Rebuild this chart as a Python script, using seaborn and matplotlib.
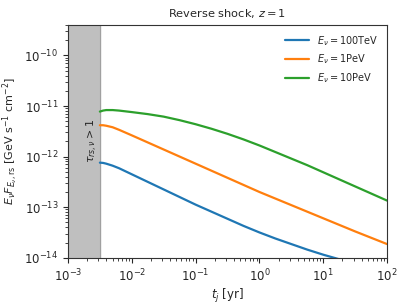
import numpy as np
import pandas as pd
import matplotlib
matplotlib.use("Agg")
import matplotlib.pyplot as plt
import seaborn as sns

sns.set_style("ticks")
plt.rcParams['font.family'] = ['DejaVu Sans']
plt.rcParams['mathtext.fontset'] = 'dejavusans'

# data (log10 t [yr], log10 flux)
log_t = [-2.50, -2.45, -2.40, -2.30, -2.20, -2.00, -1.75, -1.50, -1.25, -1.00,
         -0.75, -0.50, -0.25, 0.00, 0.25, 0.50, 0.75, 1.00, 1.25, 1.50, 1.75, 2.00]
log_green = [-11.11, -11.09, -11.08, -11.08, -11.09, -11.12, -11.16, -11.21, -11.28, -11.36,
             -11.45, -11.55, -11.66, -11.78, -11.91, -12.04, -12.17, -12.31, -12.45, -12.59, -12.73, -12.87]
log_orange = [-11.38, -11.38, -11.39, -11.42, -11.47, -11.58, -11.72, -11.86, -12.00, -12.14,
              -12.28, -12.42, -12.56, -12.70, -12.83, -12.96, -13.09, -13.22, -13.35, -13.48, -13.605, -13.73]
log_blue = [-12.12, -12.125, -12.14, -12.18, -12.23, -12.35, -12.50, -12.65, -12.80, -12.95,
            -13.09, -13.23, -13.37, -13.50, -13.62, -13.73, -13.84, -13.94, -14.03, -14.12, -14.20, -14.28]
labels = [r'$E_\nu=100$TeV', r'$E_\nu=1$PeV', r'$E_\nu=10$PeV']
t_opaque = 3.13e-3

t = 10 ** np.array(log_t)
df = pd.concat([
    pd.DataFrame({'t': t, 'flux': 10 ** np.array(v), 'E': lab})
    for v, lab in zip([log_blue, log_orange, log_green], labels)
])

fig, ax = plt.subplots(figsize=(4.07, 3.05), dpi=100)
sns.lineplot(data=df, x='t', y='flux', hue='E', palette=['#1f77b4', '#ff7f0e', '#2ca02c'],
             linewidth=1.6, ax=ax)
ax.set_xscale('log')
ax.set_yscale('log')
ax.set_xlim(1e-3, 1e2)
ax.set_ylim(1e-14, 4e-10)
ax.axvspan(1e-3, t_opaque, color='#bfbfbf', zorder=0)
ax.axvline(t_opaque, color='#a0a0a0', lw=0.8, zorder=0)
ax.text(2.4e-3, 2.0e-12, r'$\tau_{rs,\nu}>1$', rotation=90, ha='center', va='center', fontsize=8)
ax.set_xlabel(r'$t_j$ [yr]', fontsize=8.5, labelpad=2)
ax.set_ylabel(r'$E_\nu F_{E_\nu,\rm rs}$ [GeV s$^{-1}$ cm$^{-2}$]', fontsize=8, labelpad=3)
ax.set_title(r'Reverse shock, $z=1$', fontsize=8.2)
ax.tick_params(labelsize=8.5)
ax.legend(title=None, fontsize=7, frameon=False, loc='upper right', handlelength=2.5)
for s in ax.spines.values():
    s.set_color('#333333')
fig.subplots_adjust(left=0.167, right=0.951, top=0.918, bottom=0.155)
fig.savefig('out.png', dpi=100)
